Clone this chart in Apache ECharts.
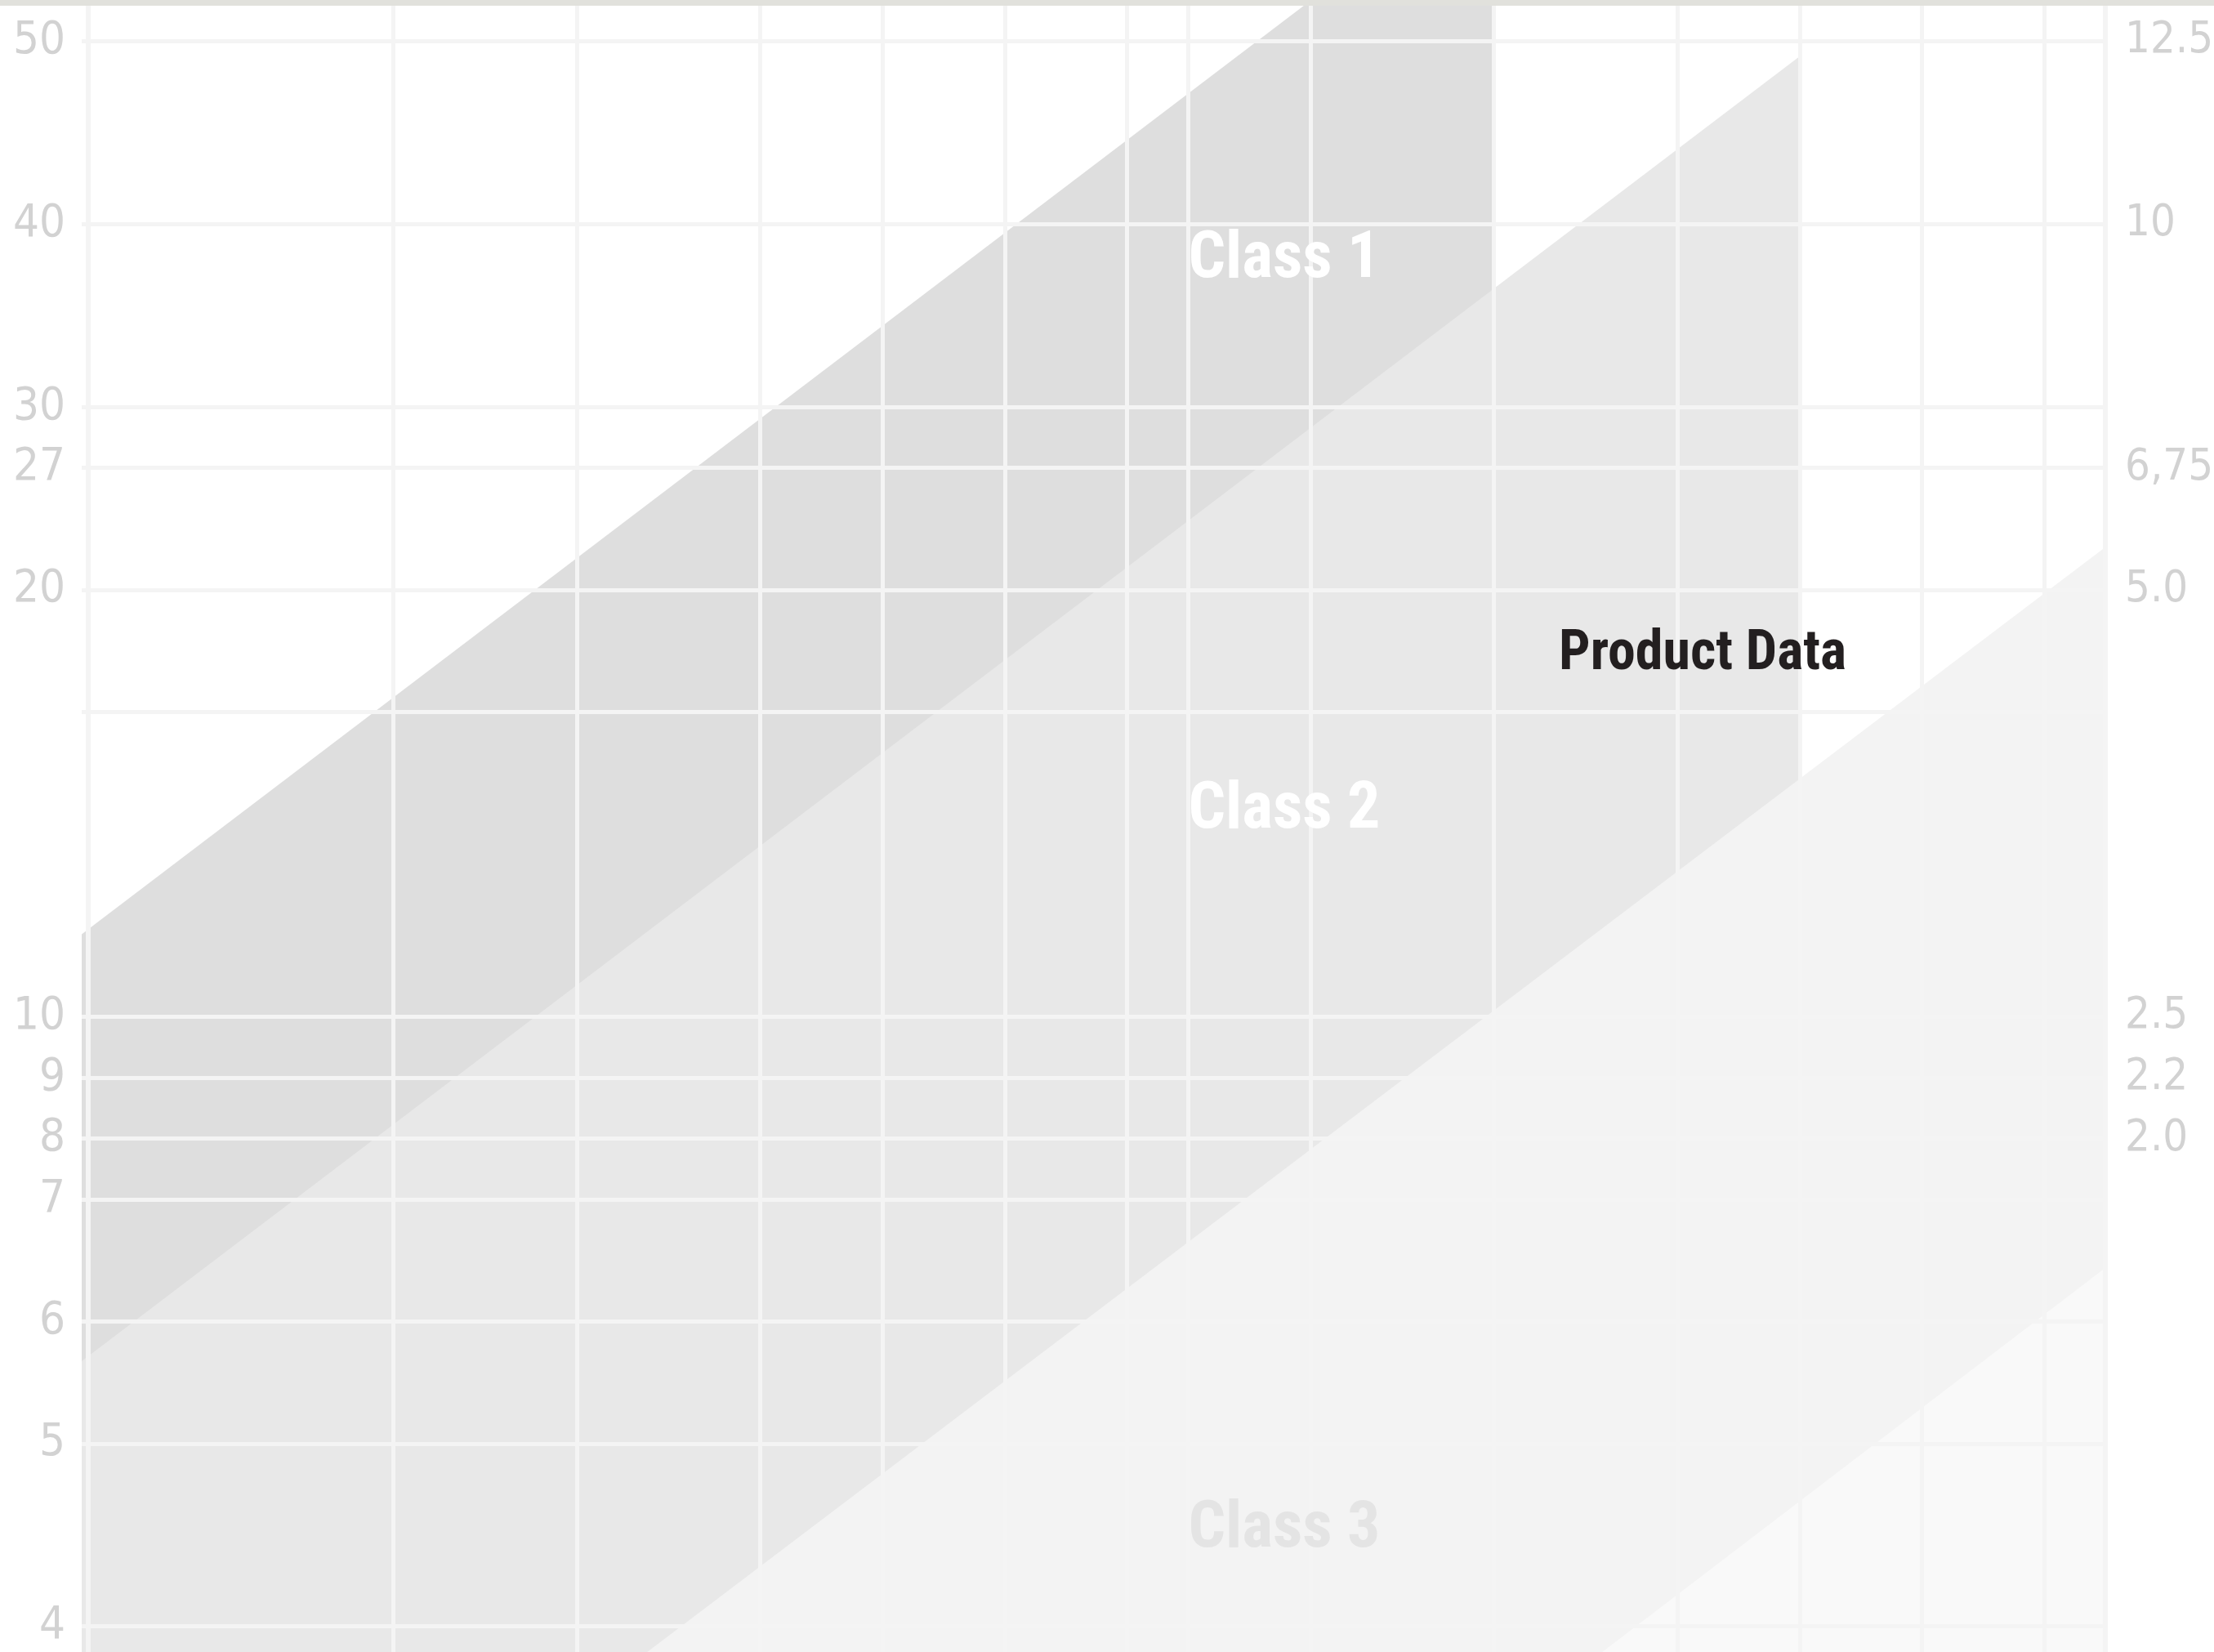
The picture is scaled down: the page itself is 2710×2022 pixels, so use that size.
<!DOCTYPE html>
<html>
<head>
<meta charset="utf-8">
<title>Product Data</title>
<script src="https://cdn.jsdelivr.net/npm/echarts@6/dist/echarts.min.js"></script>
<style>
  html, body { margin: 0; padding: 0; background: #ffffff; }
  #chart { width: 2710px; height: 2022px; }
</style>
</head>
<body>
<div id="chart"></div>
<script>
// Row units: 0 is the bottom "4" rule, 26 the top "50" rule
const leftTickValues = [26, 23, 20, 19, 17, 10, 9, 8, 7, 5, 3, 0];
const leftTickLabels = ['50', '40', '30', '27', '20', '10', '9', '8', '7', '6', '5', '4'];
const rightTickValues = [26, 23, 19, 17, 10, 9, 8];
const rightTickLabels = ['12.5', '10', '6,75', '5.0', '2.5', '2.2', '2.0'];
const rowRules = [26, 23, 20, 19, 17, 15, 10, 9, 8, 7, 5, 3, 0];
const columnRules = [5, 8, 11, 13, 15, 17, 18, 20, 23, 26, 28, 30, 32];

// Upper boundary of each class band, [column, row] at both ends
const class1Edge = [[-0.1, 11.35], [23, 28.95]];
const class2Edge = [[-0.1, 4.35], [28, 25.75]];
const class3Edge = [[9.15, -0.42], [33, 17.7]];
const class4Edge = [[24.77, -0.42], [33, 5.88]];

const bandNames = ['Class 1', 'Class 2', 'Class 3', 'Class 4'];
const bandColors = ['#dedede', '#e8e8e8', '#f3f3f3', '#f9f9f9'];

// Annotations in chart coordinates: [column, row, text]
const classLabels = [[18, 22.4, 'Class 1'], [18, 13.37, 'Class 2'], [18, 1.58, 'Class 3']];
const classLabelColors = ['#ffffff', '#ffffff', '#e4e4e4'];
const productLabel = [[24.06, 15.93, 'Product Data']];

const gridColor = '#f4f4f4';
const numberFont = "'DejaVu Sans Condensed', 'DejaVu Sans', sans-serif";
const narrowFont = "'Liberation Sans Narrow', 'Roboto Condensed', 'Roboto', sans-serif";

const chart = echarts.init(document.getElementById('chart'), null, { renderer: 'canvas' });

function labelFor(values, labels) {
  return function (v) {
    const i = values.indexOf(Math.round(v * 100) / 100);
    return i >= 0 ? labels[i] : '';
  };
}

const bandSeries = [class1Edge, class2Edge, class3Edge, class4Edge].map(function (edge, i) {
  return {
    type: 'line',
    name: bandNames[i],
    data: edge,
    symbol: 'none',
    showSymbol: false,
    silent: true,
    z: 2,
    lineStyle: { width: 0, opacity: 0 },
    areaStyle: { color: bandColors[i], opacity: 1, origin: 'start' }
  };
});

const option = {
  animation: false,
  backgroundColor: '#ffffff',
  graphic: [{
    type: 'rect',
    left: 0,
    top: 0,
    z: 100,
    shape: { width: 2710, height: 7 },
    style: { fill: '#e1e1dc' }
  }],
  grid: { left: 100, right: 133, top: 7, bottom: 0, containLabel: false, outerBoundsMode: 'none' },
  xAxis: {
    type: 'value',
    min: -0.1,
    max: 33,
    z: 5,
    axisLine: { show: false },
    axisTick: { show: false, customValues: columnRules },
    axisLabel: { show: false },
    splitLine: { show: true, lineStyle: { color: gridColor, width: 5 } }
  },
  yAxis: [{
    type: 'value',
    position: 'left',
    min: -0.42,
    max: 26.58,
    z: 5,
    axisLine: { show: true, lineStyle: { color: gridColor, width: 6 } },
    axisTick: { show: false, customValues: rowRules },
    axisLabel: {
      show: true,
      customValues: leftTickValues,
      formatter: labelFor(leftTickValues, leftTickLabels),
      margin: 20,
      color: '#d2d2d2',
      fontFamily: numberFont,
      fontSize: 56
    },
    splitLine: { show: true, lineStyle: { color: gridColor, width: 5 } }
  }, {
    type: 'value',
    position: 'right',
    min: -0.42,
    max: 26.58,
    z: 5,
    axisLine: { show: true, lineStyle: { color: gridColor, width: 6 } },
    axisTick: { show: false, customValues: rightTickValues },
    axisLabel: {
      show: true,
      customValues: rightTickValues,
      formatter: labelFor(rightTickValues, rightTickLabels),
      margin: 24,
      color: '#d2d2d2',
      fontFamily: numberFont,
      fontSize: 54
    },
    splitLine: { show: false }
  }],
  series: bandSeries.concat([{
    type: 'scatter',
    name: 'class labels',
    silent: true,
    z: 10,
    symbolSize: 0,
    itemStyle: { opacity: 1 },
    data: classLabels.map(function (d, i) {
      return { value: d, label: { color: classLabelColors[i] } };
    }),
    label: {
      show: true,
      position: 'right',
      distance: 0,
      opacity: 1,
      formatter: function (p) { return p.value[2]; },
      fontFamily: narrowFont,
      fontWeight: 'bold',
      fontSize: 80
    }
  }, {
    type: 'scatter',
    name: 'product label',
    silent: true,
    z: 10,
    symbolSize: 0,
    itemStyle: { opacity: 1 },
    data: productLabel,
    label: {
      show: true,
      position: 'right',
      distance: 0,
      opacity: 1,
      formatter: function (p) { return p.value[2]; },
      color: '#231f20',
      fontFamily: narrowFont,
      fontWeight: 'bold',
      fontSize: 68
    }
  }])
};

chart.setOption(option);
</script>
</body>
</html>
